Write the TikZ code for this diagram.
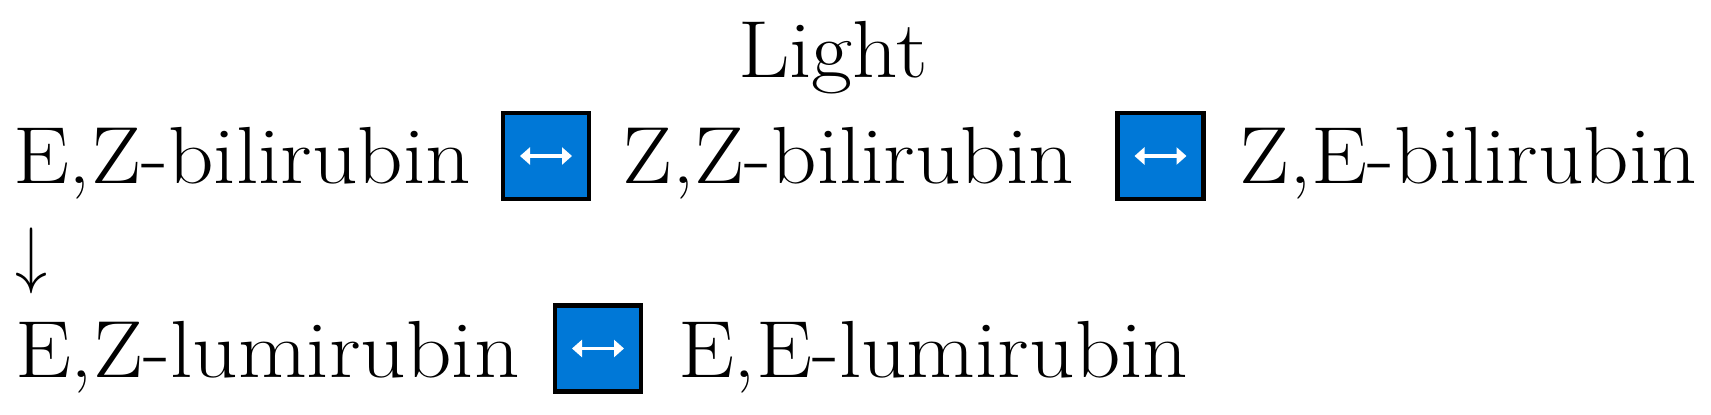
\documentclass[tikz,border=0pt]{standalone}
\usepackage{fontspec}
\setmainfont{Latin Modern Roman}[FakeStretch=1.1]
\usetikzlibrary{arrows.meta}
\definecolor{emblue}{RGB}{0,120,215}
\tikzset{
  lbl/.style={inner sep=0pt, outer sep=0pt, anchor=base west, font=\fontsize{81}{97}\selectfont},
  embox/.style={draw=black, line width=4.5pt, fill=emblue, minimum width=86pt, minimum height=86pt, inner sep=0pt},
  dbl/.style={draw=white, line width=3.5pt, {Triangle[width=17pt,length=10pt]}-{Triangle[width=17pt,length=10pt]}}
}
\begin{document}
\begin{tikzpicture}[x=1pt,y=1pt]
\useasboundingbox (0,0) rectangle (1711,-415);
\node[lbl, anchor=base] (light) at (833,-77) {Light};
\node[lbl] (ezb) at (13,-183) {E,Z-bilirubin};
\node[embox] (b1) at (546,-156) {};
\node[lbl] (zzb) at (622,-183) {Z,Z-bilirubin};
\node[embox] (b2) at (1160.5,-156) {};
\node[lbl] (zeb) at (1239,-183) {Z,E-bilirubin};
\node[inner sep=0pt, outer sep=0pt, anchor=south] (arr) at (31,-294) {\resizebox*{32pt}{66pt}{$\downarrow$}};
\node[lbl] (ezl) at (15,-377) {E,Z-lumirubin};
\node[embox] (b3) at (598,-348.5) {};
\node[lbl] (eel) at (678,-377) {E,E-lumirubin};
\foreach \b in {b1,b2,b3}{
  \draw[dbl] ([xshift=-26pt]\b.center) -- ([xshift=26pt]\b.center);
}
\end{tikzpicture}
\end{document}
